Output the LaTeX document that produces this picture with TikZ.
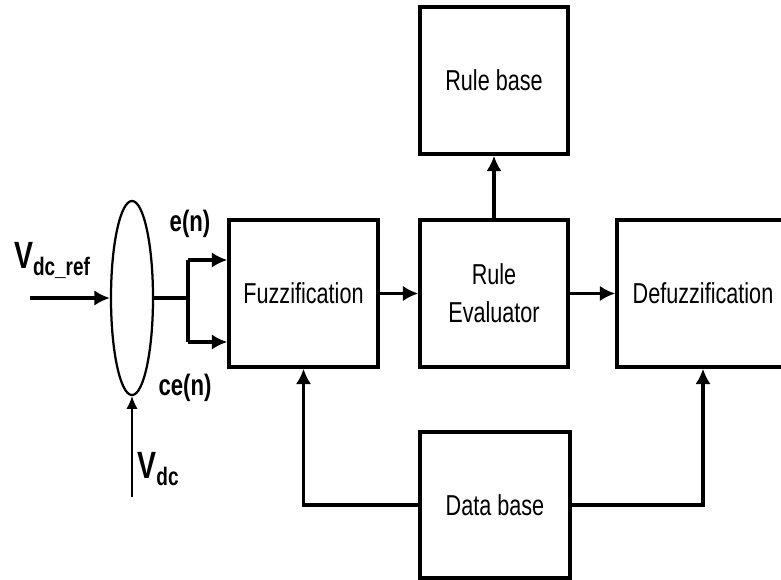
\documentclass[tikz,border=0pt]{standalone}
\usepackage{fontspec}
\setmainfont[FakeStretch=0.75]{Liberation Sans}
\usepackage{tikz}
\usetikzlibrary{arrows.meta}
\usetikzlibrary{shapes.geometric}
\newcommand{\bigV}[1]{{\fontsize{27}{30}\selectfont V}\raisebox{-5pt}{\fontsize{18}{20}\selectfont #1}}

\begin{document}
\begin{tikzpicture}[x=0.025cm,y=-0.025cm,
  blockbox/.style={draw,line width=2.4pt,minimum height=3.675cm,inner sep=0pt,
    font=\fontsize{20.5}{27}\selectfont,align=center},
  arr/.style={line width=2.4pt,-{Latex[length=11pt,width=11pt]}},
  lbl/.style={font=\bfseries\fontsize{21}{24}\selectfont,inner sep=0pt}]
\useasboundingbox (0,0) rectangle (781,579);
% blocks
\node[blockbox,minimum width=3.725cm] (fuzz) at (303.5,293.5) {Fuzzification};
\node[blockbox,minimum width=3.7cm] (eval) at (494,293.5) {Rule\\Evaluator};
\node[blockbox,minimum width=4.3cm] (defuzz) at (703,293.5) {Defuzzification};
\node[blockbox,minimum width=3.7cm] (rulebase) at (494,80.5) {Rule base};
\node[blockbox,minimum width=3.75cm,minimum height=3.65cm] (database) at (495,505) {Data base};
% comparator
\node[draw,ellipse,line width=1.6pt,inner sep=0pt,minimum width=1.05cm,minimum height=4.85cm] (sum) at (132,298) {};
\coordinate (vin) at (30,298);
\coordinate (vdcin) at (132,497);
\coordinate (split) at (188,298);
\coordinate (splitUp) at (188,260);
\coordinate (splitDn) at (188,342);
\draw[arr] (vin) -- (sum.west);
\draw[line width=1.1pt,-{Latex[length=9pt,width=8pt]}] (vdcin) -- (sum.south);
\draw[line width=2.4pt] (sum.east) -- (split);
\draw[line width=2.4pt] (splitUp) -- (splitDn);
\draw[arr] (splitUp) -- (splitUp -| fuzz.west);
\draw[arr] (splitDn) -- (splitDn -| fuzz.west);
\draw[arr] (fuzz.east) -- (eval.west);
\draw[arr] (eval.east) -- (defuzz.west);
\draw[arr] (eval.north) -- (rulebase.south);
\draw[arr] (database.west) -| (fuzz.south);
\draw[arr] (database.east) -| (defuzz.south);
% labels
\node[lbl,anchor=base] (vref) at (52,268) {\bigV{dc\_ref}};
\node[lbl,anchor=base] (vdc) at (158,478) {\bigV{dc}};
\node[lbl,anchor=base] (en) at (190,231) {e(n)};
\node[lbl,anchor=base] (cen) at (185,395) {ce(n)};
\end{tikzpicture}
\end{document}
